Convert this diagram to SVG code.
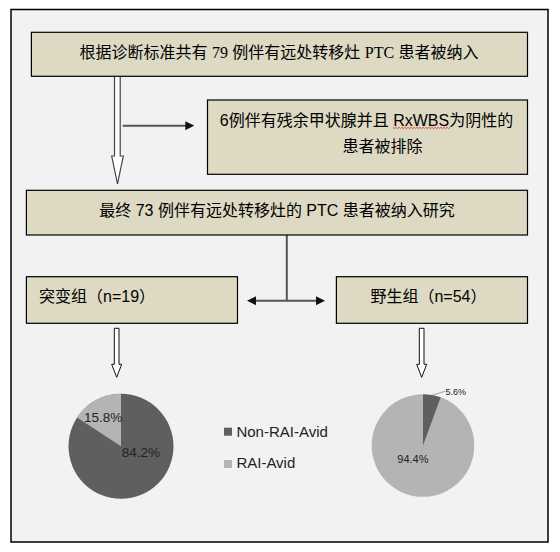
<svg xmlns="http://www.w3.org/2000/svg" width="560" height="552" viewBox="0 0 560 552">
<style>
.box{fill:#ddd9c3;stroke:#000;stroke-width:1.2}
.t{font-family:'Liberation Sans','Noto Sans CJK SC',sans-serif;font-size:16px;fill:#000}
.serif{font-family:'Liberation Serif','Noto Sans CJK SC',serif}
.conn{stroke:#555;stroke-width:2;fill:none}
.hollow{fill:#fff;stroke:#444;stroke-width:1.2;stroke-linejoin:miter}
.lbl{font-family:'Liberation Sans',sans-serif;fill:#222}
</style>
<defs>
<marker id="ah" markerUnits="userSpaceOnUse" markerWidth="9" markerHeight="9" viewBox="0 0 9 9" refX="3" refY="4.5" orient="auto-start-reverse">
<path d="M0,0 L9,4.5 L0,9 Z" fill="#111"/>
</marker>
</defs>
<rect x="11" y="9.5" width="537" height="532.5" fill="#f2f2f2" stroke="#000" stroke-width="1.5"/>

<g id="connectors">
<path class="hollow" d="M114.5,76.3 L114.5,156 L111.7,156 L117.5,184 L123.3,156 L120.2,156 L120.2,76.3"/>
<path class="conn" d="M122.7,125.7 H188.3" marker-end="url(#ah)"/>
<path class="conn" d="M286.8,235 V300.7"/>
<path class="conn" d="M253,300.7 H319" marker-start="url(#ah)" marker-end="url(#ah)"/>
<path class="hollow" style="stroke:#111;stroke-width:1" d="M114.3,328.3 L114.3,364.3 L111.7,364.3 L116.7,377.3 L121.7,364.3 L119,364.3 L119,328.3 Z"/>
<path class="hollow" style="stroke:#111;stroke-width:1" d="M419.3,328.3 L419.3,364.3 L416.7,364.3 L421.7,377.3 L426.7,364.3 L424,364.3 L424,328.3 Z"/>
</g>

<g id="node-total">
<rect class="box" x="31.4" y="32.3" width="496.1" height="44"/>
<text class="t" x="279" y="57.5" text-anchor="middle">根据诊断标准共有 <tspan class="serif">79</tspan> 例伴有远处转移灶 <tspan class="serif">PTC</tspan> 患者被纳入</text>
</g>

<g id="node-excluded">
<rect class="box" x="207.5" y="100" width="320" height="74.3"/>
<text class="t" x="366.5" y="126" text-anchor="middle">6例伴有残余甲状腺并且 RxWBS为阴性的</text>
<text class="t" x="382.5" y="152" text-anchor="middle">患者被排除</text>
<path d="M393,127.3 l1.5,1.3 l1.5,-1.3 l1.5,1.3 l1.5,-1.3 l1.5,1.3 l1.5,-1.3 l1.5,1.3 l1.5,-1.3 l1.5,1.3 l1.5,-1.3 l1.5,1.3 l1.5,-1.3 l1.5,1.3 l1.5,-1.3 l1.5,1.3 l1.5,-1.3 l1.5,1.3 l1.5,-1.3 l1.5,1.3 l1.5,-1.3 l1.5,1.3 l1.5,-1.3 l1.5,1.3 l1.5,-1.3 l1.5,1.3 l1.5,-1.3 l1.5,1.3 l1.5,-1.3 l1.5,1.3 l1.5,-1.3 l1.5,1.3 l1.5,-1.3 l1.5,1.3 l1.5,-1.3 l1.5,1.3 l1.5,-1.3 l1.5,1.3 l1.5,-1.3" fill="none" stroke="#e03030" stroke-width="0.8"/>
</g>

<g id="node-final">
<rect class="box" x="26.4" y="190.3" width="501.1" height="44.7"/>
<text class="t" x="277" y="216" text-anchor="middle">最终 73 例伴有远处转移灶的 PTC 患者被纳入研究</text>
</g>

<g id="node-mutant">
<rect class="box" x="26.4" y="276.7" width="211.1" height="46.6"/>
<text class="t" x="39" y="302">突变组（n=19）</text>
</g>

<g id="node-wild">
<rect class="box" x="336.4" y="276.7" width="191.1" height="46.6"/>
<text class="t" x="428.5" y="302" text-anchor="middle">野生组（n=54）</text>
</g>

<g id="pie-mutant">
<circle cx="121" cy="446.3" r="52.5" fill="#5f5f5f"/>
<path d="M121,446.3 L121,393.8 A52.5,52.5 0 0 0 77,417.6 Z" fill="#b4b4b4"/>
<text class="lbl" x="84" y="421.7" font-size="13.5">15.8%</text>
<text class="lbl" x="121.7" y="456.7" font-size="13.5" fill="#111">84.2%</text>
</g>

<g id="legend">
<rect x="224" y="427.7" width="8" height="8" fill="#5f5f5f"/>
<text class="lbl" x="236.4" y="436.7" font-size="15" fill="#333">Non-RAI-Avid</text>
<rect x="224" y="460" width="8" height="8" fill="#b4b4b4"/>
<text class="lbl" x="236.4" y="468.3" font-size="15" fill="#333">RAI-Avid</text>
</g>

<g id="pie-wild">
<circle cx="423" cy="445.5" r="51.3" fill="#b4b4b4"/>
<path d="M423,445.5 L423,394.2 A51.3,51.3 0 0 1 440.7,397.3 Z" fill="#5f5f5f"/>
<path d="M432,395.3 L445,391.3" stroke="#888" stroke-width="0.8" fill="none"/>
<text class="lbl" x="445.5" y="394.5" font-size="9" fill="#333">5.6%</text>
<text class="lbl" x="397.3" y="463.3" font-size="11" fill="#333">94.4%</text>
</g>
</svg>
